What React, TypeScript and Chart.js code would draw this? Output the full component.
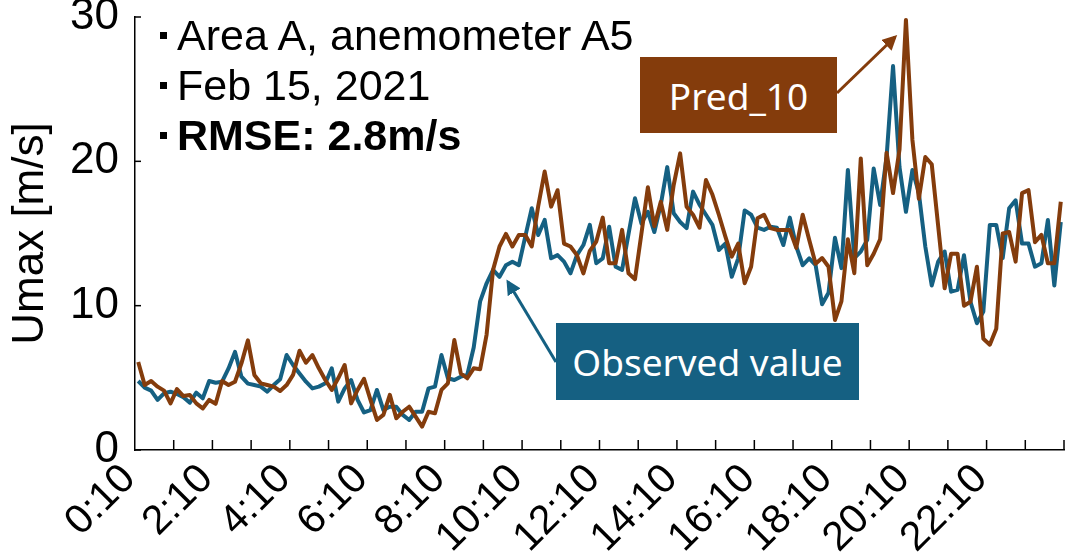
import React, { useEffect, useRef } from "react";
import { Chart, registerables } from "chart.js";
Chart.register(...registerables);

// Observed maximum wind speed (m/s), every 10 minutes from 0:10 to 24:00
const observed = [
  4.78, 4.32, 4.11, 3.47, 3.93, 4.04, 3.88, 3.65, 3.28, 3.97,
  3.58, 4.78, 4.66, 4.73, 5.65, 6.8, 5.08, 4.6, 4.5, 4.39,
  4.04, 4.5, 4.9, 6.58, 5.89, 5.3, 4.73, 4.27, 4.39, 4.62,
  5.66, 3.35, 4.27, 4.85, 3.47, 2.6, 2.77, 4.16, 2.77, 3.0,
  3.0, 2.43, 2.08, 2.65, 2.65, 4.27, 4.39, 6.58, 4.97, 4.85,
  5.08, 5.2, 7.1, 10.3, 11.55, 12.48, 12.0, 12.8, 13.05, 12.8,
  14.8, 16.75, 14.9, 15.94, 13.28, 13.5, 13.05, 12.24, 13.5, 14.2,
  15.6, 12.94, 13.28, 15.47, 12.7, 12.48, 14.98, 17.44, 15.7, 16.5,
  15.1, 17.0, 19.6, 16.4, 15.8, 15.37, 17.9, 17.0, 16.3, 15.6,
  13.86, 14.3, 12.0, 13.28, 16.6, 16.3, 15.4, 15.25, 15.47, 15.4,
  14.2, 16.1, 14.1, 12.8, 13.28, 12.8, 10.1, 10.9, 14.7, 12.6,
  19.4, 13.3, 13.75, 14.56, 19.5, 16.98, 20.3, 26.6, 19.6, 16.5,
  19.4, 17.8, 14.1, 11.4, 13.05, 13.75, 10.97, 11.1, 13.5, 10.27,
  8.78, 9.6, 15.59, 15.59, 13.3, 16.75, 17.3, 14.3, 14.3, 12.7,
  12.94, 15.94, 11.4, 15.8,
];

// Pred_10 prediction (m/s)
const pred10 = [
  6.1, 4.5, 4.78, 4.39, 4.11, 3.23, 4.22, 3.74, 3.81, 3.23,
  2.88, 3.47, 3.2, 4.78, 4.5, 4.73, 6.0, 7.6, 5.2, 4.62,
  4.5, 4.39, 4.09, 4.5, 5.2, 6.88, 6.05, 6.58, 5.66, 4.85,
  4.16, 4.97, 5.89, 3.23, 4.16, 4.93, 3.47, 2.08, 2.43, 3.82,
  2.2, 2.65, 3.0, 2.31, 1.62, 2.65, 2.54, 4.16, 4.62, 7.62,
  5.31, 4.97, 5.66, 5.6, 8.0, 12.48, 14.1, 14.97, 14.1, 14.9,
  14.9, 14.1, 16.9, 19.29, 16.86, 18.0, 14.3, 14.1, 13.5, 12.24,
  13.8, 14.44, 16.1, 12.94, 12.94, 15.25, 12.24, 11.83, 15.0, 18.2,
  15.5, 17.2, 15.25, 18.36, 20.55, 16.86, 16.3, 15.4, 18.7, 17.7,
  16.3, 14.8, 13.4, 14.3, 11.55, 12.7, 16.05, 16.3, 15.37, 15.25,
  15.25, 15.25, 14.0, 16.3, 14.56, 12.9, 13.3, 12.7, 9.0, 10.3,
  14.6, 12.25, 20.2, 12.8, 13.6, 14.6, 20.6, 17.8, 20.8, 29.8,
  21.5, 17.4, 20.3, 19.8, 15.5, 11.2, 13.6, 13.6, 10.0, 10.27,
  12.7, 7.7, 7.3, 8.4, 15.0, 15.1, 13.05, 17.8, 18.0, 14.4,
  14.9, 12.94, 12.94, 17.2,
];

const tickLabels = ["0:10", "2:10", "4:10", "6:10", "8:10", "10:10", "12:10", "14:10", "16:10", "18:10", "20:10", "22:10"];
const yTicks = [0, 10, 20, 30];
const notes = ["Area A, anemometer A5", "Feb 15, 2021", "RMSE: 2.8m/s"];
const seriesNames = ["Observed value", "Pred_10"];
const yTitle = "Umax [m/s]";

// category labels: 10-minute steps
const categories: string[] = [];
for (let m = 10; m <= 1440; m += 10) {
  categories.push(`${Math.floor(m / 60)}:${String(m % 60).padStart(2, "0")}`);
}

const BLUE = "#156082";
const BROWN = "#843C0C";
const FONT = "'Liberation Sans', Arial, sans-serif";

export default function App() {
  const ref = useRef<HTMLCanvasElement>(null);

  useEffect(() => {
    document.body.style.margin = "0";
    const canvas = ref.current!;
    const inTicks = {
      id: "inTicks",
      afterDraw(chart: any) {
        const { ctx } = chart;
        const x = chart.scales.x;
        const y = chart.scales.y;
        ctx.save();
        ctx.strokeStyle = "#000";
        ctx.lineWidth = 1.5;
        const cw = x.getPixelForValue(1) - x.getPixelForValue(0);
        for (let i = 6; i <= categories.length; i += 6) {
          const px = x.getPixelForValue(i - 1) + cw / 2;
          ctx.beginPath();
          ctx.moveTo(px, y.bottom);
          ctx.lineTo(px, y.bottom - 10);
          ctx.stroke();
        }
        for (const v of yTicks) {
          const py = y.getPixelForValue(v);
          ctx.beginPath();
          ctx.moveTo(x.left, py);
          ctx.lineTo(x.left + 6, py);
          ctx.stroke();
        }
        ctx.restore();
      },
    };

    const chart = new Chart(canvas, {
      type: "line",
      data: {
        labels: categories,
        datasets: [
          {
            label: seriesNames[0],
            data: observed,
            borderColor: BLUE,
            borderWidth: 4,
            pointRadius: 0,
            tension: 0,
            borderJoinStyle: "round",
            order: 1,
          },
          {
            label: seriesNames[1],
            data: pred10,
            borderColor: BROWN,
            borderWidth: 4,
            pointRadius: 0,
            tension: 0,
            borderJoinStyle: "round",
            order: 0,
          },
        ],
      },
      options: {
        responsive: false,
        animation: false,
        devicePixelRatio: 1,
        layout: { padding: { top: 17, right: 4, left: 0, bottom: 0 } },
        plugins: { legend: { display: false }, tooltip: { enabled: false } },
        scales: {
          x: {
            type: "category",
            offset: true,
            grid: { display: false, drawTicks: false },
            border: { display: true, color: "#000", width: 1.5 },
            ticks: {
              autoSkip: false,
              minRotation: 45,
              maxRotation: 45,
              padding: 5,
              labelOffset: -9,
              color: "#000",
              font: { family: FONT, size: 41 },
              callback: (_v: any, i: number) => (i % 12 === 0 ? tickLabels[i / 12] : null),
            },
            afterFit: (s: any) => {
              s.height = 107;
              s.paddingLeft = 0;
              s.paddingRight = 0;
            },
          },
          y: {
            min: 0,
            max: 30,
            grid: { display: false, drawTicks: false },
            border: { display: true, color: "#000", width: 1.5 },
            ticks: {
              stepSize: 10,
              padding: 16,
              color: "#000",
              font: { family: FONT, size: 44 },
            },
            title: {
              display: true,
              text: yTitle,
              color: "#000",
              font: { family: FONT, size: 44 },
              padding: { top: 4, bottom: 0 },
            },
            afterFit: (s: any) => {
              s.width = 135;
              s.paddingTop = 0;
              s.paddingBottom = 0;
            },
          },
        },
      },
      plugins: [inTicks],
    });
    return () => chart.destroy();
  }, []);

  const noteTops = [14, 64, 114];
  return (
    <div style={{ position: "relative", width: 1068, height: 557, overflow: "hidden", background: "#fff" }}>
      <canvas ref={ref} width={1068} height={557} style={{ display: "block" }} />
      {notes.map((t, i) => (
        <React.Fragment key={i}>
          <div
            style={{
              position: "absolute",
              left: 160,
              top: noteTops[i] + 18,
              width: 7,
              height: 7,
              background: "#000",
            }}
          />
          <div
            style={{
              position: "absolute",
              left: 177,
              top: noteTops[i],
              fontFamily: FONT,
              fontSize: 43,
              lineHeight: "42px",
              fontWeight: i === 2 ? "bold" : "normal",
              color: "#000",
              whiteSpace: "nowrap",
            }}
          >
            {t}
          </div>
        </React.Fragment>
      ))}
      <div
        style={{
          position: "absolute",
          left: 640,
          top: 57,
          width: 197,
          height: 76,
          background: BROWN,
          color: "#fff",
          display: "flex",
          alignItems: "center",
          justifyContent: "center",
          fontFamily: "'Noto Sans', sans-serif",
          fontSize: 37,
        }}
      >
        {seriesNames[1]}
      </div>
      <div
        style={{
          position: "absolute",
          left: 556,
          top: 323,
          width: 303,
          height: 77,
          background: BLUE,
          color: "#fff",
          display: "flex",
          alignItems: "center",
          justifyContent: "center",
          fontFamily: "'Noto Sans', sans-serif",
          fontSize: 37,
        }}
      >
        {seriesNames[0]}
      </div>
      <svg width={1068} height={557} style={{ position: "absolute", left: 0, top: 0, pointerEvents: "none" }}>
        <defs>
          <marker id="ahBrown" viewBox="0 0 10 10" refX="8" refY="5" markerWidth="5" markerHeight="5" orient="auto">
            <path d="M0,0 L10,5 L0,10 z" fill={BROWN} />
          </marker>
          <marker id="ahBlue" viewBox="0 0 10 10" refX="8" refY="5" markerWidth="5" markerHeight="5" orient="auto">
            <path d="M0,0 L10,5 L0,10 z" fill={BLUE} />
          </marker>
        </defs>
        <line x1={837} y1={93} x2={895} y2={37} stroke={BROWN} strokeWidth={3} markerEnd="url(#ahBrown)" />
        <line x1={556} y1={362} x2={508} y2={282} stroke={BLUE} strokeWidth={3} markerEnd="url(#ahBlue)" />
      </svg>
    </div>
  );
}
